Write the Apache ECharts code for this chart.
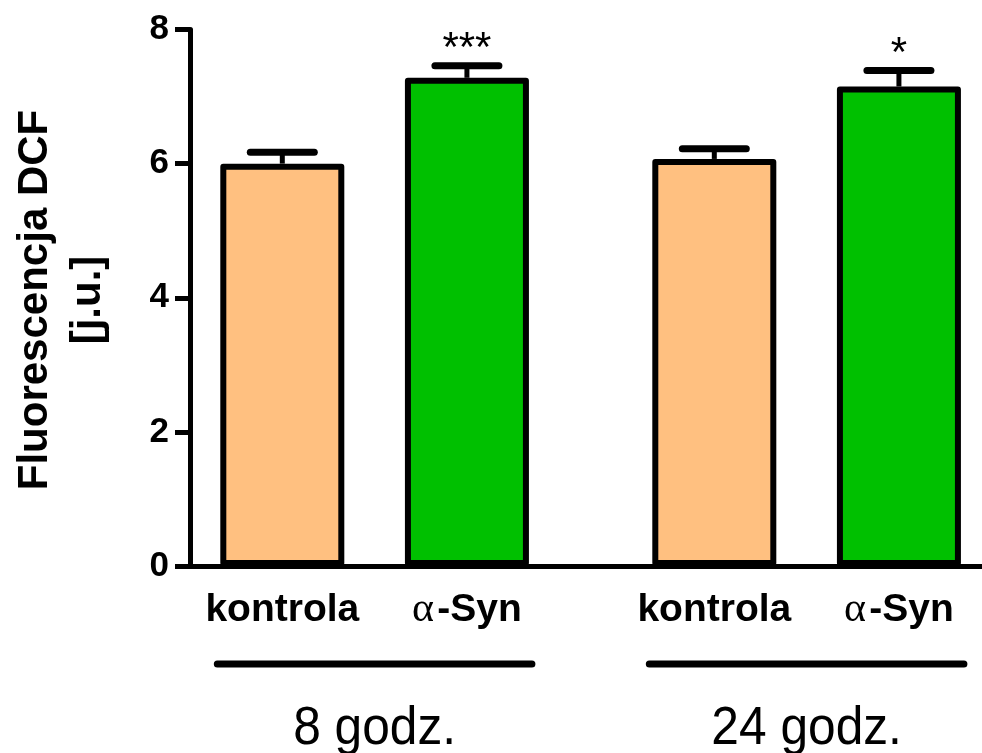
<!DOCTYPE html>
<html>
<head>
<meta charset="utf-8">
<script src="https://cdn.jsdelivr.net/npm/echarts@6/dist/echarts.min.js"></script>
<style>
  html, body { margin: 0; padding: 0; background: #fff; }
  #chart { width: 982px; height: 753px; }
</style>
</head>
<body>
<div id="chart"></div>
<script>
// Time points (groups) and treatments within each group
const groups = ['8 godz.', '24 godz.'];
const treatments = ['kontrola', 'α-Syn'];

// DCF fluorescence, mean and SEM, ordered group by group
const means = [6.00, 7.28, 6.07, 7.15];
const sems = [0.17, 0.18, 0.15, 0.24];
const stars = ['', '***', '', '*'];

const yTicks = [0, 2, 4, 6, 8];

const FONT = "'Liberation Sans', Arial, sans-serif";
const fills = ['#FFC080', '#00C000'];
const GROUP_GAP = 0.34;   // extra spacing between the two time points
const BAR_W = 124;
const yMin = yTicks[0], yMax = yTicks[yTicks.length - 1];
const yStep = yTicks[1] - yTicks[0];

// x position of each bar on a hidden value axis
const bars = [];
groups.forEach((g, gi) => {
  treatments.forEach((t, ti) => {
    const i = gi * treatments.length + ti;
    bars.push({ pos: 1 + i + gi * GROUP_GAP, group: gi, treat: ti, mean: means[i], sem: sems[i], star: stars[i] });
  });
});

function treatLabel(t) {
  if (t.charAt(0) === 'α') return '{a|α} {b|' + t.slice(1) + '}';
  return '{b|' + t + '}';
}

const chart = echarts.init(document.getElementById('chart'));
chart.setOption({
  animation: false,
  backgroundColor: '#fff',
  grid: { left: 190, right: 0, top: 29.5, bottom: 187 },
  xAxis: {
    type: 'value', min: 0.5, max: 4.79,
    axisLine: { show: true, onZero: false, lineStyle: { color: '#000', width: 5 } },
    axisTick: { show: false }, axisLabel: { show: false }, splitLine: { show: false }
  },
  yAxis: {
    type: 'value', min: yMin, max: yMax, interval: yStep,
    axisLine: { show: true, lineStyle: { color: '#000', width: 5 } },
    axisTick: { show: true, length: 15, lineStyle: { color: '#000', width: 5 } },
    axisLabel: { color: '#000', fontFamily: FONT, fontWeight: 'bold', fontSize: 35, margin: 21 },
    splitLine: { show: false }
  },
  graphic: [{
    type: 'text', x: 62, y: 300, rotation: Math.PI / 2,
    style: {
      text: 'Fluorescencja DCF\n[j.u.]', fill: '#000', font: 'bold 42px ' + FONT,
      align: 'center', verticalAlign: 'middle', lineHeight: 53
    }
  }],
  series: [
    {
      type: 'bar', barWidth: BAR_W, z: 2,
      data: bars.map(b => ({
        value: [b.pos, b.mean],
        itemStyle: { color: fills[b.treat], borderColor: '#000', borderWidth: 6, borderJoin: 'round' }
      }))
    },
    {
      // error bars (SEM) with significance marks
      type: 'custom', z: 3, clip: false,
      data: bars.map(b => [b.pos, b.mean, b.sem]),
      renderItem(params, api) {
        const x = api.value(0), m = api.value(1), s = api.value(2);
        const base = api.coord([x, m]);
        const top = api.coord([x, m + s]);
        const half = 32;
        const children = [
          { type: 'line', shape: { x1: base[0], y1: base[1], x2: top[0], y2: top[1] },
            style: { stroke: '#000', lineWidth: 5 } },
          { type: 'line', shape: { x1: top[0] - half, y1: top[1], x2: top[0] + half, y2: top[1] },
            style: { stroke: '#000', lineWidth: 7, lineCap: 'round' } }
        ];
        const star = bars[params.dataIndex].star;
        if (star) {
          children.push({ type: 'text', x: top[0], y: top[1] - 16,
            style: { text: star, fill: '#000', font: '42px ' + FONT, align: 'center', verticalAlign: 'middle' } });
        }
        return { type: 'group', children };
      }
    },
    {
      // treatment labels under each bar
      type: 'custom', z: 3, clip: false,
      data: bars.map(b => [b.pos]),
      renderItem(params, api) {
        const p = api.coord([api.value(0), yMin]);
        const b = bars[params.dataIndex];
        return {
          type: 'text', x: p[0], y: p[1] + 44,
          style: {
            text: treatLabel(treatments[b.treat]), align: 'center', verticalAlign: 'middle',
            rich: {
              a: { fontFamily: "'Liberation Serif', serif", fontSize: 42, fill: '#000', fontWeight: 'normal' },
              b: { fontFamily: FONT, fontSize: 39, fontWeight: 'bold', fill: '#000' }
            }
          }
        };
      }
    },
    {
      // time-point brackets and labels
      type: 'custom', z: 3, clip: false,
      data: groups.map((g, gi) => {
        const gb = bars.filter(b => b.group === gi);
        return [gb[0].pos, gb[gb.length - 1].pos];
      }),
      renderItem(params, api) {
        const a = api.coord([api.value(0), yMin]);
        const c = api.coord([api.value(1), yMin]);
        const ext = BAR_W / 2 + 3;
        const y = a[1] + 98;
        return {
          type: 'group', children: [
            { type: 'line', shape: { x1: a[0] - ext, y1: y, x2: c[0] + ext, y2: y },
              style: { stroke: '#000', lineWidth: 7, lineCap: 'round' } },
            { type: 'text', x: (a[0] + c[0]) / 2, y: a[1] + 136, scaleX: 0.92,
              style: { text: groups[params.dataIndex], fill: '#000', font: '54px ' + FONT, align: 'center', verticalAlign: 'top' } }
          ]
        };
      }
    }
  ]
});
</script>
</body>
</html>
